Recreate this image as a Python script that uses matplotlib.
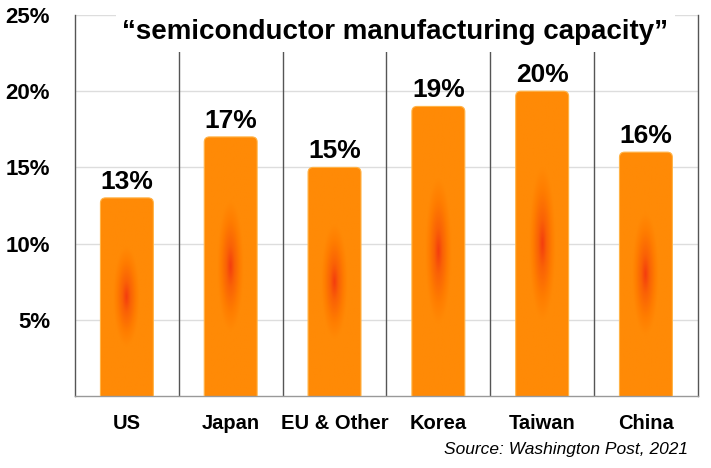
import numpy as np
import matplotlib
matplotlib.use("Agg")
import matplotlib.pyplot as plt
from matplotlib.patches import FancyBboxPatch
from matplotlib.colors import LinearSegmentedColormap

# ====================
# Data
# ====================
regions = ["US", "Japan", "EU & Other", "Korea", "Taiwan", "China"]
capacity = [13, 17, 15, 19, 20, 16]
yticks = [5, 10, 15, 20, 25]
ytick_labels = ["5%", "10%", "15%", "20%", "25%"]
title = "\u201csemiconductor manufacturing capacity\u201d"
source = "Source: Washington Post, 2021"

plt.rcParams['font.family'] = ['Liberation Sans', 'DejaVu Sans']

fig = plt.figure(figsize=(7.11, 4.68), dpi=100)
ax = fig.add_axes([0.1055, 0.1538, 0.876, 0.8142])

n = len(regions)
bar_w = 0.51

# soft red core fading quickly to orange
cmap = LinearSegmentedColormap.from_list(
    "glow", [(0.0, "#f4400e"), (0.3, "#fa6206"), (0.7, "#ff7d00"), (1.0, "#ff8a06")])
gx, gy = np.meshgrid(np.linspace(-1, 1, 80), np.linspace(-1, 1, 240))
dist = np.clip(np.sqrt((gx / 0.5) ** 2 + (gy / 0.5) ** 2), 0, 1)

for i, v in enumerate(capacity):
    x0 = i + 0.5 - bar_w / 2
    patch = FancyBboxPatch((x0, -1), bar_w, v + 1,
                           boxstyle="round,pad=0,rounding_size=0.05",
                           mutation_aspect=6.8, facecolor="none",
                           edgecolor="#ffb347", linewidth=0.8, zorder=3)
    ax.add_patch(patch)
    im = ax.imshow(dist, cmap=cmap, extent=[x0, x0 + bar_w, 0, v],
                   aspect="auto", origin="lower", zorder=2, interpolation="bilinear")
    im.set_clip_path(patch)
    ax.annotate(f"{v}%", (i + 0.5, v), xytext=(0, 3), textcoords="offset points",
                ha="center", va="bottom", fontsize=19, fontweight="bold", zorder=5)

ax.set_xlim(0, n)
ax.set_ylim(0, 25)

# gridlines
for y in yticks:
    ax.axhline(y, color="#dddddd", lw=1, zorder=1)
for k in range(1, n):
    ax.axvline(k, color="#555555", lw=1, zorder=1)

ax.set_yticks(yticks)
ax.set_yticklabels(ytick_labels, fontsize=16, fontweight="bold")
ax.set_xticks([i + 0.5 for i in range(n)])
ax.set_xticklabels(regions, fontsize=14.5, fontweight="bold")
ax.tick_params(axis="both", length=0)
ax.tick_params(axis="y", pad=18)
ax.tick_params(axis="x", pad=13)

ax.spines["top"].set_visible(False)
for s in ["left", "right", "bottom"]:
    ax.spines[s].set_color("#555555")
    ax.spines[s].set_linewidth(1)
ax.spines["bottom"].set_color("#999999")

ax.text(0.5145, 0.955, title, transform=ax.transAxes, ha="center", va="center",
        fontsize=20, fontweight="bold", zorder=6,
        bbox=dict(facecolor="white", edgecolor="none", pad=5))

fig.text(0.968, 0.04, source, ha="right", va="center", fontsize=12.5, style="italic")

fig.savefig("out.png", dpi=100)
